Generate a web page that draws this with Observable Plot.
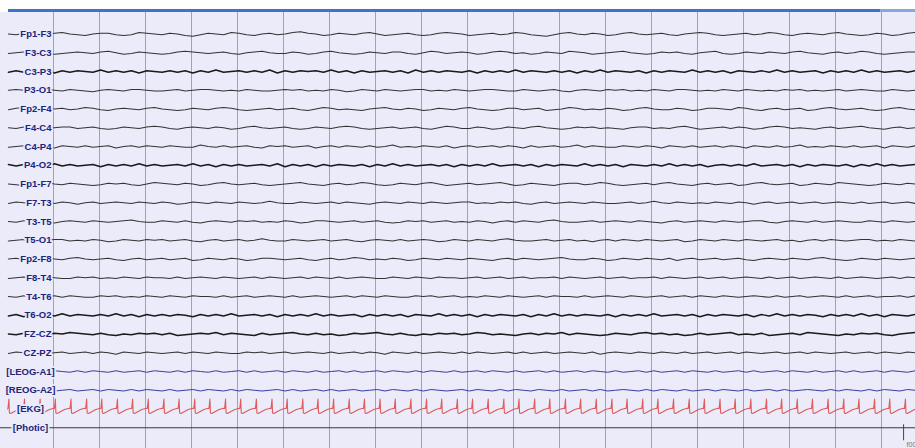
<!DOCTYPE html>
<html><head><meta charset="utf-8">
<script src="https://cdn.jsdelivr.net/npm/d3@7"></script>
<script src="https://cdn.jsdelivr.net/npm/@observablehq/plot@0.6"></script>
<style>
body{margin:0;background:#fff;width:915px;height:448px;overflow:hidden;font-family:"Liberation Sans",Arial,sans-serif}
#bar{height:3px;margin:9px 0 0 8px;background:linear-gradient(to right,#3d74c9 0,#3d74c9 872px,#86a8dc 872px)}
#chart svg{display:block}
</style></head><body>
<div id="bar"></div>
<div id="chart"></div>
<script>
const channels = ["Fp1-F3","F3-C3","C3-P3","P3-O1","Fp2-F4","F4-C4","C4-P4","P4-O2","Fp1-F7","F7-T3","T3-T5","T5-O1","Fp2-F8","F8-T4","T4-T6","T6-O2","FZ-CZ","CZ-PZ","[LEOG-A1]","[REOG-A2]","[EKG]","[Photic]"];
const seconds = [1,2,3,4,5,6,7,8,9,10,11,12,13,14,15,16,17,18,19];

const fp1F3 = [0,1,-1,0,2,1,-1,-2,0,1,2,0,-1,-1,1,2,1,-2,-1,0,
1,-1,0,2,3,1,-1,0,1,-2,-1,1,2,0,-1,1,0,-2,-3,-1,
0,2,1,-1,0,1,-1,-2,0,2,1,0,-1,1,2,1,-1,-2,-1,0,
2,1,0,-1,1,0,-2,-1,1,2,3,1,-1,-2,0,1,-1,0,2,1,
-1,-2,0,1,0,-1,1,2,0,-1,-2,-1,1,2,1,0,-1,1,0,-2,
-1,1,2,0,-1,0,1,-1,-2,0,1,2,1,-1,0,2,1,-1,-2,0];
const f3C3 = [1,0,-1,-2,-1,1,2,1,0,-1,0,1,-1,-2,0,2,1,-1,0,1,
2,1,-1,-2,-1,0,1,0,-1,1,2,0,-1,-2,0,1,1,-1,0,2,
1,-1,-2,0,1,2,1,-1,0,1,-1,-1,1,2,0,-2,-1,1,0,-1,
0,2,1,-1,-2,-1,1,0,2,1,-1,0,1,-2,-1,0,2,1,0,-1,
-2,0,1,2,1,-1,0,-1,1,2,0,-1,-2,1,2,1,-1,0,1,-1,
0,1,-1,-2,0,1,2,0,-1,1,0,-2,-1,1,2,1,0,-1,-1,1];
const c3P3 = [1,-1,1,-2,1,-1,2,-1,1,-1,0,1,-2,1,-1,1,-1,2,-1,0,
1,-1,1,-1,2,-1,1,-2,1,0,-1,1,-1,1,-2,2,-1,1,-1,0,
-1,1,-2,1,-1,2,-1,1,0,-1,1,-1,2,-2,1,-1,1,-1,0,1,
-1,2,-1,1,-1,1,-2,1,-1,0,1,-1,1,-1,2,-1,1,-2,1,-1,
0,1,-1,2,-1,1,-1,0,1,-2,1,-1,1,-1,2,-1,0,1,-1,1,
-2,1,-1,1,0,-1,2,-1,1,-1,1,-2,1,-1,1,0,-1,1,-1,2];
const p3O1 = [0,-1,0,1,1,-1,0,1,-1,0,1,2,0,-1,0,1,-1,-1,0,1,
1,0,-1,1,0,-1,-1,0,1,0,1,-1,0,1,1,0,-1,0,-1,1,
0,1,-1,0,2,1,-1,0,1,-1,0,1,0,-1,-1,1,0,1,-1,0,
1,0,-1,-1,0,1,1,-1,0,1,0,-1,1,2,0,-1,0,1,-1,0,
-1,1,0,1,-1,0,1,-1,-1,0,1,0,1,-1,0,1,-1,0,1,0,
1,-1,0,-1,1,0,1,0,-1,1,0,-1,0,1,1,-1,0,1,0,-1];
const fp2F4 = [1,-1,-2,0,2,1,0,-1,1,0,-2,-1,1,2,0,-1,0,1,-1,-2,
0,1,2,1,-1,0,1,-1,-2,-1,1,2,1,0,-1,1,0,-1,1,2,
0,-2,-1,1,0,1,2,0,-1,-2,0,1,-1,0,2,1,-1,0,1,-1,
-2,0,1,2,1,-1,-1,1,0,-1,2,1,0,-2,-1,1,0,1,-1,0,
2,1,-1,-2,0,1,1,-1,0,2,1,-1,-1,0,1,-2,-1,1,2,0,
-1,1,0,-1,2,1,-1,-2,0,1,0,-1,1,2,1,-1,-2,0,1,0];
const f4C4 = [0,1,-1,0,1,2,0,-1,-1,1,0,-1,1,2,1,-1,0,1,-1,-2,
-1,1,2,0,-1,0,1,-1,0,2,1,-1,-2,0,1,0,-1,1,2,1,
-1,0,1,-1,-2,-1,1,2,1,0,-1,1,0,-1,1,2,0,-2,-1,1,
1,-1,0,2,1,-1,0,1,-1,-2,0,1,2,1,-1,0,-1,1,0,1,
2,0,-1,-1,1,0,1,-1,-2,0,2,1,0,-1,1,-1,0,2,1,-1,
-2,-1,1,0,1,2,0,-1,1,0,-1,-2,0,1,2,0,-1,1,0,-1];
const c4P4 = [1,0,-1,1,-1,0,2,-1,0,1,-1,1,0,-1,2,0,-1,1,-1,0,
1,-1,0,1,1,-2,0,1,-1,1,0,-1,1,2,-1,0,-1,1,0,-1,
2,0,-1,1,-1,0,1,-1,1,0,-2,1,0,1,-1,0,1,-1,2,0,
-1,1,0,-1,1,-1,0,2,-1,1,0,-1,1,0,-2,1,-1,0,1,1,
-1,0,1,-1,0,2,-1,0,1,-1,1,0,-1,1,-1,0,2,-1,0,1,
-1,1,0,-2,1,0,1,-1,0,1,-1,1,0,-1,2,-1,0,1,-1,0];
const p4O2 = [-1,1,-1,2,-1,1,-2,1,-1,1,0,-1,2,-1,1,-1,1,-2,1,-1,
1,0,-1,1,-2,1,-1,2,-1,1,-1,1,0,-1,1,-2,2,-1,1,-1,
2,-1,1,-1,0,1,-1,2,-1,1,-2,1,-1,1,0,-1,1,-1,2,-1,
1,-1,1,-2,1,0,-1,1,-1,2,-1,1,-1,0,1,-2,1,-1,1,-1,
2,-1,0,1,-1,1,-2,1,-1,1,-1,2,0,-1,1,-1,1,-2,1,0,
-1,1,-1,2,-1,1,-1,0,1,-1,2,-1,1,-2,1,-1,1,0,-1,1];
const fp1F7 = [0,1,2,0,-1,-2,0,1,-1,0,1,2,1,-1,0,-1,1,2,0,-2,
-1,0,1,-1,0,2,1,-1,-2,0,1,0,-1,1,2,1,0,-1,-2,0,
1,2,0,-1,1,0,-2,-1,1,2,1,-1,0,1,-1,-2,0,2,1,0,
-1,1,0,-1,-2,0,2,1,-1,0,1,2,0,-1,-1,1,0,-2,-1,1,
2,1,0,-1,1,-1,-2,0,1,2,0,-1,1,0,-1,2,1,-1,-2,0,
1,0,-1,2,1,-1,0,1,-2,-1,0,1,2,1,-1,0,1,-1,0,2];
const f7T3 = [1,-1,0,1,0,-1,1,-1,0,2,0,-1,1,0,-1,0,1,-1,0,1,
-1,0,2,1,-1,0,1,-1,0,1,-1,0,1,0,-2,0,1,1,-1,0,
1,0,-1,1,-1,0,1,2,0,-1,0,1,-1,0,1,-1,0,1,0,-1,
-1,1,0,1,-1,0,-1,1,2,0,-1,1,0,-1,0,1,-1,0,1,1,
0,-1,1,0,-2,0,1,-1,0,1,0,1,-1,0,1,-1,0,2,0,-1,
1,0,-1,1,0,-1,1,0,-1,0,1,-1,1,0,-1,1,0,-1,1,0];
const t3T5 = [0,1,-1,-1,0,1,2,0,-1,0,1,-1,0,1,0,-1,-2,0,1,1,
-1,0,1,-1,1,2,0,-1,0,1,-1,0,-1,1,0,1,-1,0,2,1,
-1,-1,0,1,0,-1,1,0,-1,1,2,1,-1,0,-1,1,0,-1,1,0,
1,-1,0,2,0,-1,1,-1,0,1,-1,-2,0,1,1,0,-1,1,0,-1,
0,1,-1,0,1,2,0,-1,1,0,-1,0,1,-1,0,1,0,-1,-1,1,
2,0,-1,0,1,-1,1,0,-1,0,1,1,-1,0,1,-1,0,1,0,-1];
const t5O1 = [1,0,-1,1,2,0,-1,-1,1,0,1,-1,0,2,1,-1,0,1,-1,0,
-1,1,0,-1,1,2,0,-1,1,0,-1,1,0,-2,0,1,1,-1,0,1,
0,-1,1,0,-1,1,2,0,-1,0,1,-1,1,0,-1,0,2,1,-1,0,
1,-1,0,1,-1,-2,0,1,1,0,-1,1,0,-1,1,0,2,0,-1,1,
-1,0,1,-1,0,1,0,-1,2,1,-1,0,1,-1,0,1,-1,0,1,0,
-1,1,0,2,0,-1,1,-1,0,1,0,-1,-1,1,0,1,-1,0,1,-1];
const fp2F8 = [0,-1,1,2,1,-1,0,1,-1,-2,0,1,0,-1,1,2,0,-1,1,0,
-1,1,0,-1,2,1,-1,0,1,-1,0,2,1,-1,-1,0,1,0,-1,1,
2,0,-1,1,0,-2,-1,1,0,1,-1,0,2,1,-1,0,1,-1,0,1,
-1,0,1,2,0,-1,1,-1,0,1,0,-1,-2,0,1,1,-1,0,2,1,
-1,0,1,-1,0,1,-1,2,0,-1,1,0,-1,1,0,-1,1,2,0,-1,
0,1,-1,0,1,-1,-2,0,1,2,1,-1,0,1,-1,0,1,0,-1,1];
const f8T4 = [1,0,-1,0,1,-1,0,1,1,-1,0,-1,1,0,1,-1,0,1,-1,0,
0,1,-1,1,0,-1,0,1,-1,0,1,0,-1,1,-1,0,1,0,-1,1,
-1,0,1,-1,1,0,-1,0,1,1,-1,0,1,-1,0,1,-1,0,0,1,
0,-1,1,0,-1,1,0,-1,1,0,0,-1,1,-1,0,1,0,-1,1,0,
-1,1,0,0,-1,1,-1,0,1,0,-1,1,0,-1,1,0,-1,0,1,-1,
1,0,-1,1,0,-1,0,1,-1,1,0,-1,0,1,0,-1,1,-1,0,1];
const t4T6 = [0,1,-1,0,1,0,-1,1,-1,0,1,1,-1,0,-1,1,0,1,-1,0,
1,-1,0,1,-1,0,0,1,-1,1,0,-1,1,0,-1,0,1,-1,1,0,
-1,0,1,0,-1,1,-1,0,1,-1,0,1,1,-1,0,-1,1,0,-1,1,
0,1,-1,0,1,-1,0,1,0,-1,1,-1,0,0,1,-1,1,0,-1,0,
1,-1,0,1,0,-1,1,0,-1,1,-1,0,1,-1,0,1,0,-1,0,1,
-1,1,0,-1,1,0,-1,0,1,-1,1,0,-1,1,0,0,-1,1,-1,0];
const t6O2 = [1,-1,2,-1,1,-1,1,-2,1,-1,0,1,-1,1,-2,1,-1,2,-1,1,
-1,1,-1,0,2,-1,1,-1,1,-2,1,0,-1,1,-1,2,-1,1,-1,1,
-2,1,-1,1,0,-1,2,-1,1,-1,1,-1,2,-1,0,1,-2,1,-1,1,
-1,2,-1,1,-1,0,1,-1,2,-1,1,-2,1,-1,1,-1,0,1,-1,2,
-1,1,-1,1,-2,1,0,-1,1,-1,2,-1,1,-1,0,1,-1,2,-1,1,
-2,1,-1,1,-1,0,2,-1,1,-1,1,-2,1,-1,2,-1,0,1,-1,1];
const fzCz = [0,1,-1,2,0,1,-1,0,-2,-1,0,1,-1,1,2,0,1,-1,0,-1,
1,-1,2,1,0,-1,0,-2,1,-1,0,1,2,-1,1,0,-1,-2,0,1,
-1,1,0,2,1,-1,0,-1,-2,0,1,-1,1,2,0,1,-1,0,-1,1,
0,-2,-1,1,0,1,2,0,-1,1,-1,0,-2,1,-1,0,1,2,1,-1,
0,1,-1,-2,0,-1,1,0,2,1,-1,1,0,-1,-2,1,0,1,-1,2,
1,0,-1,1,-2,-1,0,1,2,0,1,-1,0,-1,1,2,0,-1,-2,0];
const czPz = [1,-1,0,1,-1,1,0,-1,1,0,-1,1,-1,0,2,-1,0,1,-1,0,
1,0,-1,1,-1,0,1,-1,0,1,1,-1,0,-1,1,0,-1,1,0,-1,
0,1,-1,1,0,-1,1,-1,0,2,-1,0,1,-1,1,0,-1,0,1,-1,
1,-1,0,1,0,-1,1,-1,1,0,-1,1,0,-1,0,1,-1,2,0,-1,
0,1,-1,0,1,-1,0,1,-1,1,0,-1,1,0,-1,1,-1,0,1,0,
-1,1,0,-1,1,-1,0,1,0,-1,1,0,-1,1,-1,0,1,-1,0,1];
const leogA1 = [1,-1,1,0,-1,1,-1,0,1,-1,1,-1,0,1,-1,1,0,-1,1,-1,
0,1,-1,1,-1,0,1,-1,1,0,-1,1,-1,1,0,-1,1,-1,0,1,
-1,1,0,-1,1,-1,1,0,-1,1,-1,0,1,-1,1,-1,0,1,-1,1,
0,-1,1,-1,0,1,-1,1,0,-1,1,-1,1,0,-1,1,-1,0,1,-1,
1,0,-1,1,-1,1,0,-1,1,-1,0,1,-1,1,0,-1,1,-1,1,0,
-1,1,-1,0,1,-1,1,0,-1,1,-1,1,0,-1,1,-1,0,1,-1,1];
const reogA2 = [-1,1,0,-1,1,-1,1,0,-1,1,0,-1,1,-1,0,1,-1,1,-1,0,
1,-1,1,0,-1,1,-1,0,1,-1,1,-1,0,1,0,-1,1,-1,1,0,
-1,1,-1,1,0,-1,1,0,-1,1,-1,0,1,-1,1,-1,0,1,0,-1,
1,-1,0,1,-1,1,-1,0,1,-1,0,1,-1,1,0,-1,1,-1,1,0,
-1,0,1,-1,1,-1,0,1,-1,1,0,-1,1,-1,0,1,-1,1,0,-1,
1,-1,1,0,-1,0,1,-1,1,-1,0,1,-1,1,-1,0,1,-1,0,1];

const ekgBeats = [0.03,0.37,0.71,1.04,1.38,1.72,2.05,2.39,2.72,3.06,3.40,3.73,4.07,4.40,4.74,5.07,5.41,5.75,6.08,6.42,6.75,7.09,7.43,7.76,8.10,8.43,8.77,9.11,9.44,9.78,10.11,10.45,10.79,11.12,11.46,11.79,12.13,12.46,12.80,13.14,13.47,13.81,14.14,14.48,14.82,15.15,15.49,15.82,16.16,16.50,16.83,17.17,17.50,17.84,18.18,18.51,18.85,19.18,19.52];
const ekgShape = [[-0.02,-0.5],[0,-10],[0.012,4],[0.04,4.5],[0.12,2.5],[0.2,0.5],[0.3,-0.8]];
const photicMarker = [19.48];
const photicText = ["f00"];

const eegTraces = [fp1F3,f3C3,c3P3,p3O1,fp2F4,f4C4,c4P4,p4O2,fp1F7,f7T3,t3T5,t5O1,fp2F8,f8T4,t4T6,t6O2,fzCz,czPz,leogA1,reogA2];

const ROW = 18.75;           // px between channels
const GAIN = 0.75 / ROW;     // trace unit -> channel units
const SPAN = [0.02, 19.9];
const dense = new Set([2,7,15,16]);
const eog = new Set([18,19]);

const rows = [];
eegTraces.forEach((vals, i) => {
  const n = vals.length;
  vals.forEach((v, k) => rows.push({
    ch: i, t: SPAN[0] + k * (SPAN[1] - SPAN[0]) / (n - 1), y: i + v * GAIN,
    kind: eog.has(i) ? "eog" : dense.has(i) ? "dense" : "eeg"
  }));
});
const ekgRows = [{t: 0, y: 20}];
ekgBeats.forEach(b => ekgShape.forEach(([dt, dv]) => ekgRows.push({t: b + dt, y: 20 + dv / ROW})));
ekgRows.sort((a, b) => a.t - b.t);

const BG = "#ebebfa";
const labels = channels.map((name, i) => ({name, i, br: name.startsWith("[")}));

const chart = Plot.plot({
  width: 915, height: 436,
  marginLeft: 0, marginRight: 0, marginTop: 0, marginBottom: 0,
  style: {background: BG, fontFamily: "'Liberation Sans', Arial, sans-serif"},
  x: {domain: [0, 908 / 46], range: [7, 915], axis: null},
  y: {domain: [-21.5 / ROW, (436 - 21.5) / ROW], range: [0, 436], axis: null},
  marks: [
    Plot.ruleX(seconds, {stroke: "#a2a2ac", strokeWidth: 1}),
    Plot.ruleY([21], {stroke: "#3a3a3a", strokeWidth: 1}),
    Plot.ruleX(photicMarker, {x: d => d, y1: 21 - 3 / ROW, y2: 21 + 13 / ROW, stroke: "#444", strokeWidth: 1}),
    Plot.text(photicText, {x: photicMarker[0], y: 21 + 17 / ROW, text: d => d, dx: 3, textAnchor: "start", fontSize: 7, fill: "#777"}),
    Plot.line(rows.filter(d => d.kind === "eeg"), {x: "t", y: "y", z: "ch", stroke: "#333", strokeWidth: 1.2, clip: true}),
    Plot.line(rows.filter(d => d.kind === "dense"), {x: "t", y: "y", z: "ch", stroke: "#1a1a1a", strokeWidth: 1.4, clip: true}),
    Plot.line(rows.filter(d => d.kind === "eog"), {x: "t", y: "y", z: "ch", stroke: "#3a3d9a", strokeWidth: 1, clip: true}),
    Plot.line(ekgRows, {x: "t", y: "y", stroke: "#e05a5a", strokeWidth: 1.1, clip: true}),
    Plot.text(labels.filter(d => !d.br), {y: "i", text: "name", frameAnchor: "left", dx: 51, textAnchor: "end",
      fill: "#20237a", stroke: BG, strokeWidth: 3.5, paintOrder: "stroke", fontWeight: "bold", fontSize: 9.5}),
    Plot.text(labels.filter(d => d.br), {y: "i", text: "name", frameAnchor: "left", dx: 30, textAnchor: "middle",
      fill: "#20237a", stroke: BG, strokeWidth: 3.5, paintOrder: "stroke", fontWeight: "bold", fontSize: 9.5})
  ]
});
document.getElementById("chart").appendChild(chart);
</script>
</body></html>
